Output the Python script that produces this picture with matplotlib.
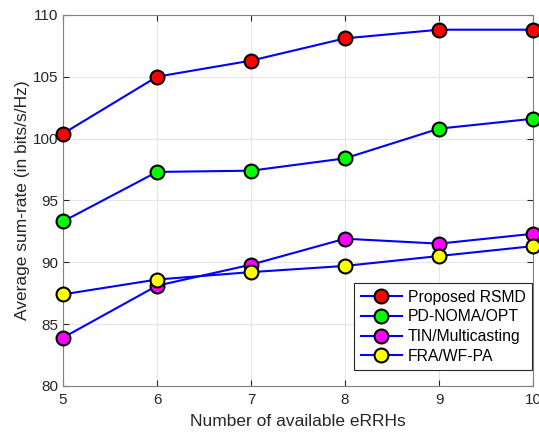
import matplotlib
matplotlib.use('Agg')
import matplotlib.pyplot as plt

plt.rcParams['font.family'] = ['Liberation Sans', 'DejaVu Sans']

n_errh = [5, 6, 7, 8, 9, 10]
rsmd = [100.4, 105.0, 106.3, 108.1, 108.8, 108.8]
pd_noma = [93.3, 97.3, 97.4, 98.4, 100.8, 101.6]
tin_mc = [83.9, 88.1, 89.8, 91.9, 91.5, 92.3]
fra_wf = [87.4, 88.6, 89.2, 89.7, 90.5, 91.3]

labels = ['Proposed RSMD', 'PD-NOMA/OPT', 'TIN/Multicasting', 'FRA/WF-PA']
face = ['#ff0000', '#00ff00', '#ff00ff', '#ffff00']

fig = plt.figure(figsize=(5.39, 4.37), dpi=100)
ax = fig.add_axes([0.117, 0.117, 0.872, 0.849])

for vals, lab, fc in zip([rsmd, pd_noma, tin_mc, fra_wf], labels, face):
    ax.plot(n_errh, vals, '-o', color='#0000ff', lw=1.5, marker='o', ms=10,
            markerfacecolor=fc, markeredgecolor='black', markeredgewidth=1.5,
            label=lab, clip_on=False, zorder=3)

ax.set_xlim(5, 10)
ax.set_ylim(80, 110)
ax.set_xticks(n_errh)
ax.set_yticks(range(80, 111, 5))
ax.grid(True, color='#e6e6e6', lw=0.8)
ax.set_axisbelow(True)
for s in ax.spines.values():
    s.set_color('#808080')
ax.tick_params(colors='#262626', labelsize=11, direction='in', length=4,
               top=True, right=True)
ax.tick_params(axis='x', pad=5)
ax.set_xlabel('Number of available eRRHs', fontsize=12.5, color='#262626',
              labelpad=5)
ax.set_ylabel('Average sum-rate (in bits/s/Hz)', fontsize=12.5,
              color='#262626', labelpad=2)

leg = ax.legend(loc='lower right', fontsize=11.3, fancybox=False, framealpha=1,
                edgecolor='#262626', borderaxespad=0,
                bbox_to_anchor=(532 / 539, 1 - 370 / 437),
                bbox_transform=fig.transFigure, handlelength=2.6,
                labelspacing=0.3, borderpad=0.4, handletextpad=0.4)
leg.get_frame().set_linewidth(0.8)

fig.savefig('out.png', dpi=100)
